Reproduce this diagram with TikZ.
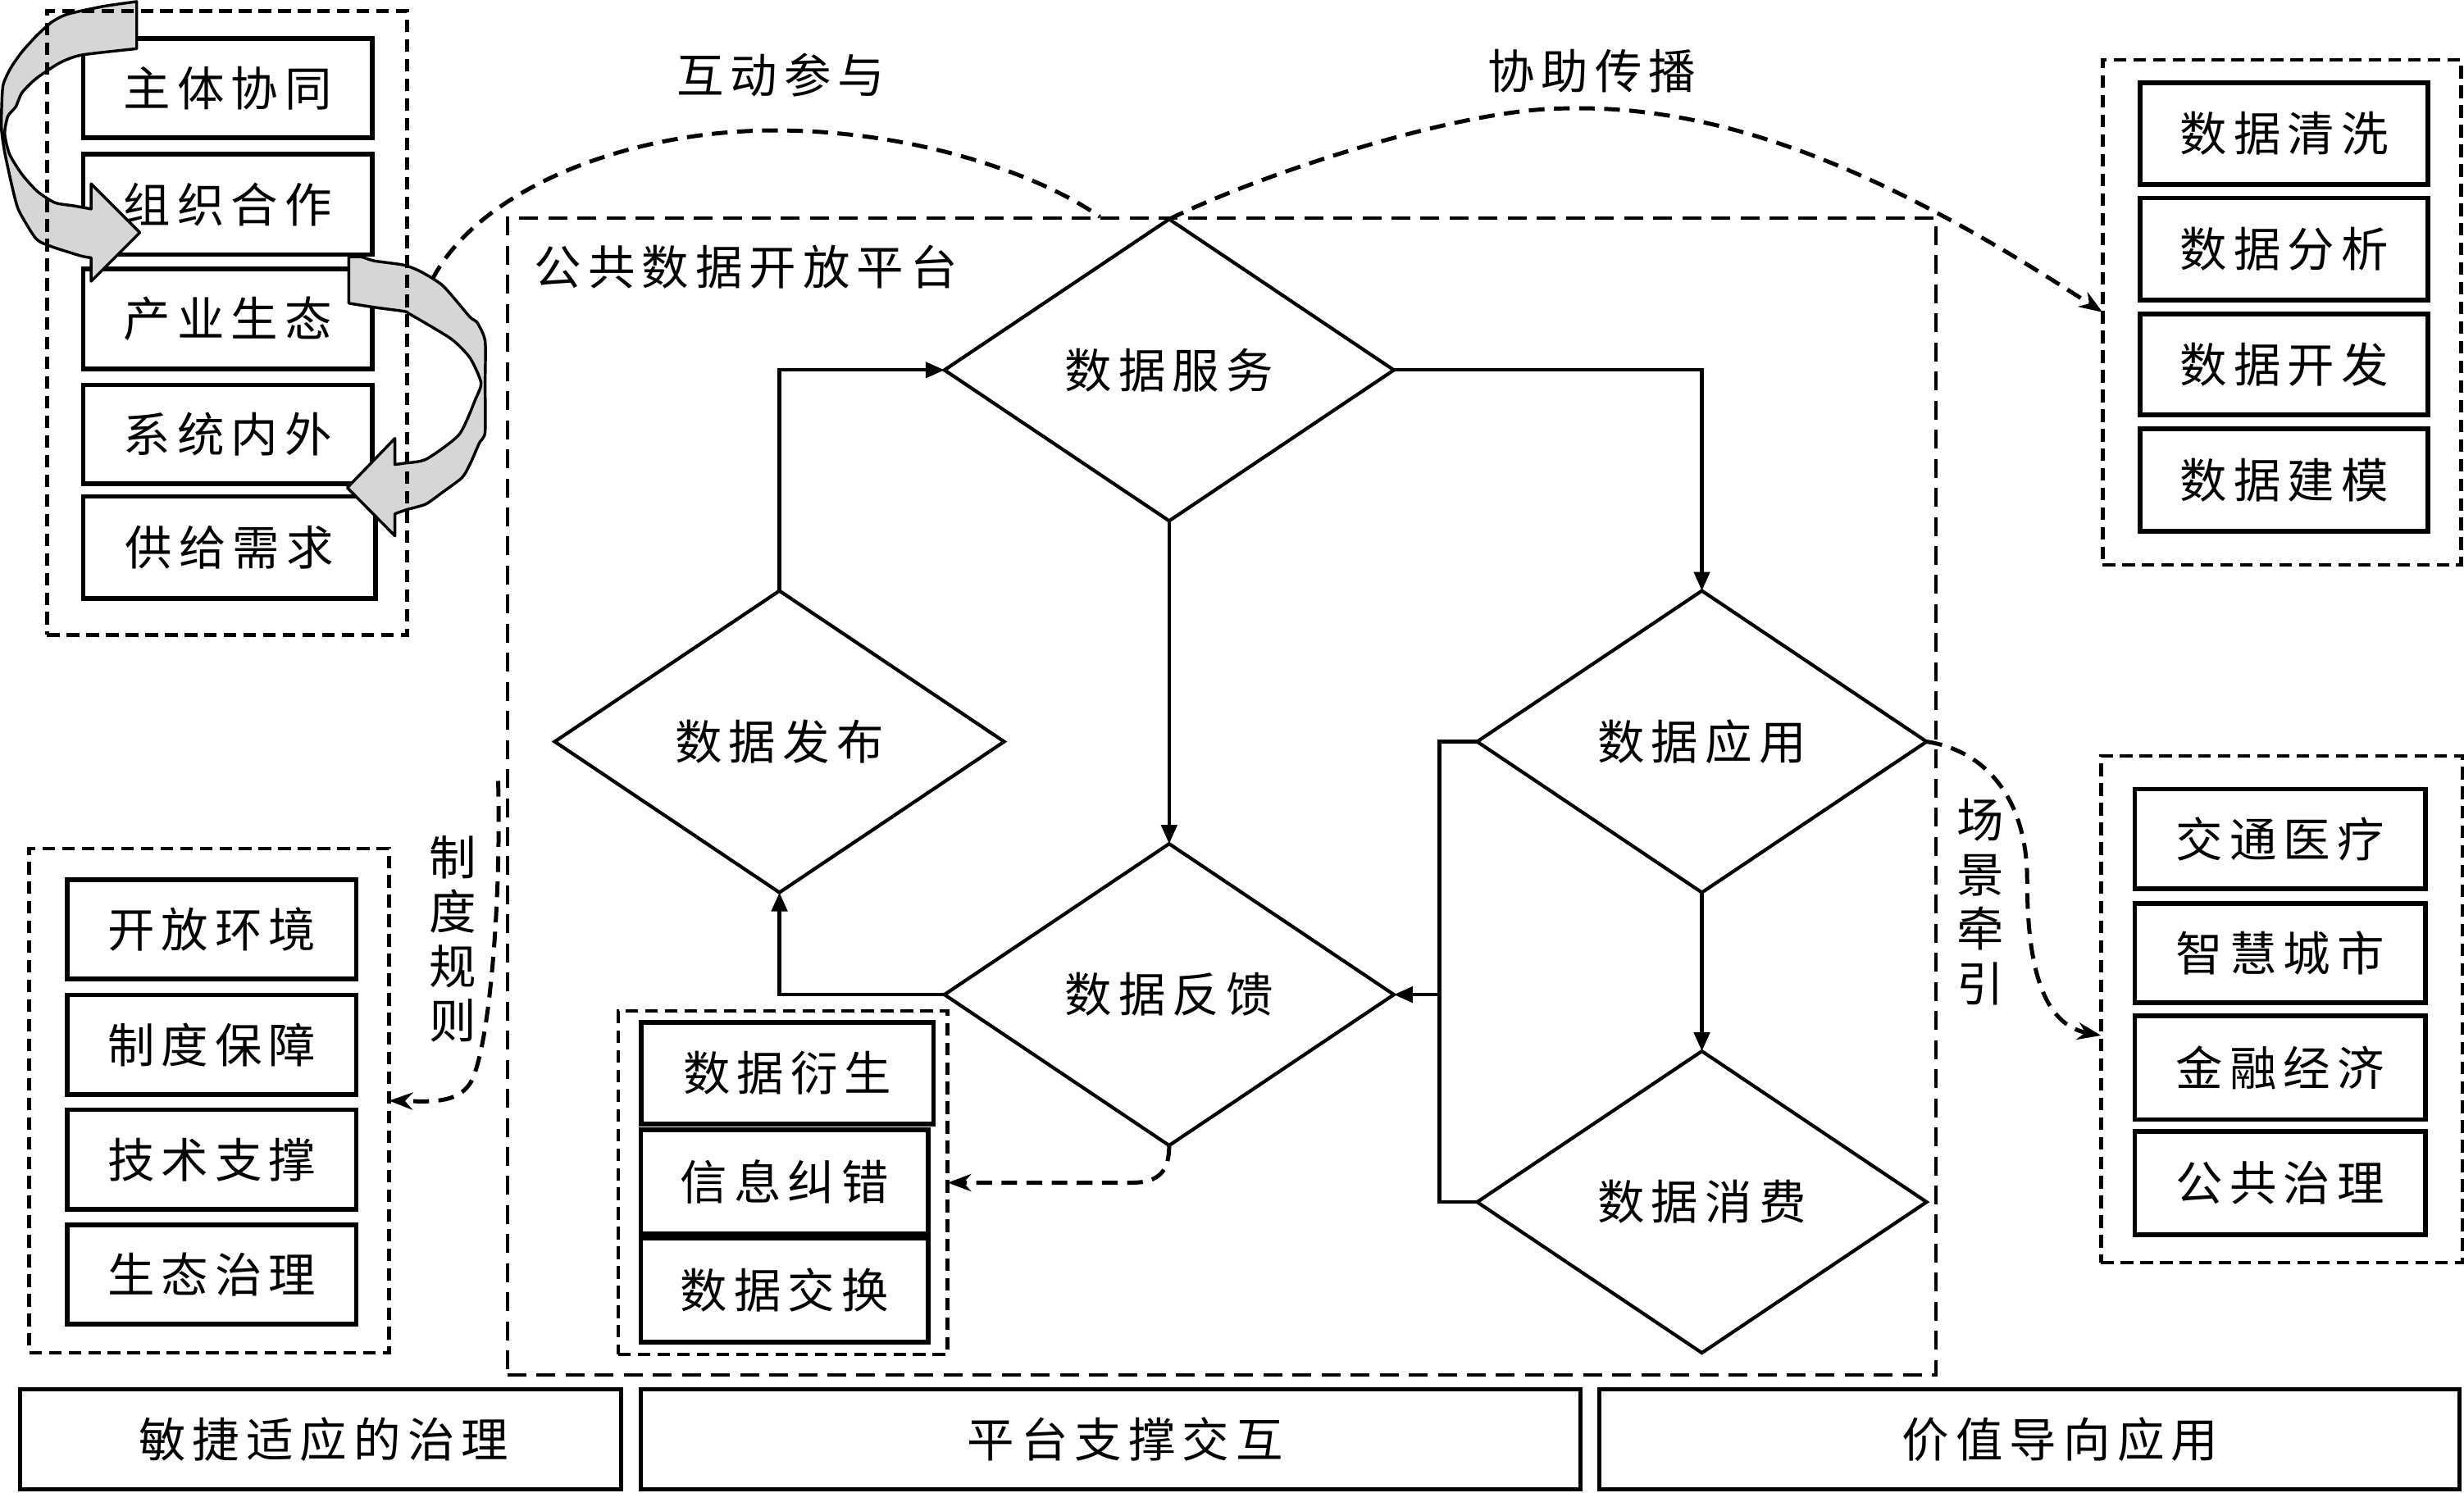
\documentclass[tikz,border=0pt]{standalone}
\usepackage{fontspec}
\usetikzlibrary{shapes.geometric,arrows.meta,calc}
\newfontfamily\cjk[LetterSpace=14]{Noto Sans CJK SC}
\newfontfamily\cjkv{Noto Sans CJK SC}
\begin{document}
\begin{tikzpicture}[x=1pt,y=-1pt,
  every node/.style={inner sep=0pt,outer sep=0pt},
  lbl/.style={font=\cjk\fontsize{30}{36}\selectfont},
  vlbl/.style={font=\cjkv\fontsize{30}{34.7}\selectfont,align=center},
  ibox/.style={draw,line width=3pt,rectangle,lbl,minimum width=184pt,minimum height=64pt},
  gbox/.style={draw,line width=2.4pt,dash pattern=on 8pt off 4.5pt,rectangle},
  platbox/.style={draw,line width=2.2pt,dash pattern=on 12pt off 6.5pt,rectangle},
  dia/.style={draw,line width=2.2pt,diamond,minimum width=286pt,minimum height=192pt,lbl},
  bar/.style={draw,line width=2.6pt,rectangle,minimum height=64pt},
  conn/.style={line width=2.2pt,-{Triangle[length=12pt,width=10pt]}},
  dcurve/.style={line width=2.6pt,dash pattern=on 10pt off 6pt,-{Stealth[length=15pt,width=11pt]}},
  dplain/.style={line width=2.6pt,dash pattern=on 10pt off 6pt},
  garrow/.style={draw,line width=1.8pt,fill=black!16,line join=round},
]
\fill[white] (0,0) rectangle (1568,950);
\useasboundingbox (0,0) rectangle (1568,950);

% platform
\node[platbox,minimum width=909pt,minimum height=736pt] (plat) at (777.5,507) {};
\node[lbl,anchor=west] (ptl) at (340,170) {公共数据开放平台};

% top-left inner boxes
\node[ibox,minimum height=63pt] (a1) at (145,56) {主体协同};
\node[ibox] (a2) at (145,130) {组织合作};
\node[ibox] (a3) at (145,203) {产业生态};
\node[ibox,minimum height=63pt] (a4) at (145,276.5) {系统内外};
\node[ibox,minimum width=186pt,minimum height=65pt] (a5) at (146,348.5) {供给需求};

% top-right inner boxes
\node[ibox,minimum width=183pt,minimum height=64.5pt] (r1) at (1453.5,85) {数据清洗};
\node[ibox,minimum width=183pt,minimum height=65pt] (r2) at (1453.5,158.5) {数据分析};
\node[ibox,minimum width=183pt] (r3) at (1453.5,232) {数据开发};
\node[ibox,minimum width=183pt,minimum height=65pt] (r4) at (1453.5,305.5) {数据建模};

% bottom-right inner boxes
\node[ibox,minimum width=185pt,minimum height=63.5pt] (s1) at (1451,534) {交通医疗};
\node[ibox,minimum width=185pt,minimum height=63pt] (s2) at (1451,606.5) {智慧城市};
\node[ibox,minimum width=185pt,minimum height=66pt] (s3) at (1451,679.5) {金融经济};
\node[ibox,minimum width=185pt,minimum height=66pt] (s4) at (1451,753) {公共治理};

% bottom-left inner boxes
\node[ibox,minimum height=63pt] (l1) at (134.7,591.5) {开放环境};
\node[ibox,minimum height=63.5pt] (l2) at (134.7,665) {制度保障};
\node[ibox,minimum height=63.5pt] (l3) at (134.7,738) {技术支撑};
\node[ibox,minimum height=63pt] (l4) at (134.7,811) {生态治理};

% middle inner boxes
\node[ibox,minimum width=186pt,minimum height=65pt] (m1) at (501,683) {数据衍生};
\node[ibox,minimum width=183pt,minimum height=66pt] (m2) at (499.3,752) {信息纠错};
\node[ibox,minimum width=183pt,minimum height=66pt] (m3) at (499.3,821) {数据交换};

% group dashed boxes (except top-left)
\node[gbox,minimum width=228pt,minimum height=321.5pt] (gTR) at (1452,198.75) {};
\node[gbox,minimum width=230pt,minimum height=322.5pt] (gBR) at (1452,642.25) {};
\node[gbox,minimum width=229pt,minimum height=321pt] (gBL) at (133.1,700.5) {};
\node[gbox,minimum width=209.5pt,minimum height=218.6pt] (gmid) at (498.25,752.7) {};

% diamonds
\node[dia] (fw) at (744,235.5) {数据服务};
\node[dia] (fb) at (496,472) {数据发布};
\node[dia] (fk) at (744,633) {数据反馈};
\node[dia] (yy) at (1083,472) {数据应用};
\node[dia] (xf) at (1083,765) {数据消费};

% solid connectors
\draw[conn] (fb.north) |- (fw.west);
\draw[conn] (fw.east) -| (yy.north);
\draw[conn] (fw.south) -- (fk.north);
\draw[conn] (yy.south) -- (xf.north);
\draw[conn] (fk.west) -| (fb.south);
\coordinate (br) at (916,633);
\draw[line width=2.2pt] (yy.west) -| (br) |- (xf.west);
\draw[conn] (br) -- (fk.east);

% bottom bars
\node[bar,minimum width=382pt] (bb1) at (204,916) {};
\node[bar,minimum width=598pt] (bb2) at (707,916) {};
\node[bar,minimum width=547pt] (bb3) at (1291.5,916) {};
\node[lbl] (bt1) at (206,916) {敏捷适应的治理};
\node[lbl] (bt2) at (716,916) {平台支撑交互};
\node[lbl] (bt3) at (1311,916) {价值导向应用};

% labels
\node[lbl] (hd) at (497,48) {互动参与};
\node[lbl] (xz) at (1013,45) {协助传播};
\node[vlbl] (zd) at (288,597.5) {制\\度\\规\\则};
\node[vlbl] (cj) at (1260.5,574) {场\\景\\牵\\引};

% dashed curved connectors
\coordinate (hdS) at (275,178);
\coordinate (hdE) at (700,138);
\draw[dplain] (hdS) .. controls (305,120) and (400,83) .. (493,83)
  .. controls (580,83) and (660,110) .. (hdE);
\draw[dcurve] (fw.north) .. controls (804,110) and (930,69) .. (996,69)
  .. controls (1110,66) and (1220,122) .. (gTR.west);
\coordinate (cjE) at (1337,659);
\draw[dcurve] (yy.east) .. controls (1265,478) and (1290,510) .. (1290,560)
  .. controls (1290,615) and (1300,652) .. (cjE);
\coordinate (zdS) at (317,497);
\draw[dcurve] (zdS) .. controls (319,570) and (312,664) .. (300,688)
  .. controls (292,703) and (272,701) .. (gBL.east);
\coordinate (fkc) at (720,752.7);
\draw[dcurve] (fk.south) .. controls (744,745) and (738,752.7) .. (fkc) -- (gmid.east);

% gray curved arrows
\filldraw[garrow] plot[smooth,tension=0.4] coordinates {(87,1) (66,4) (43,9) (33,14) (23,23) (14,33) (7,43) (2,54) (1,70) (1,83) (3,97) (8,120) (12,134) (23,152) (33,157) (52,163) (58,164)}
  -- (58,179) -- (89,148) -- (58,117) -- (58,133)
  -- plot[smooth,tension=0.4] coordinates {(58,133) (47,131) (35,129) (24,122) (14,111) (6,98) (3,85) (5,74) (10,68) (14,59) (23,50) (38,40) (52,35) (87,31)} -- cycle;
\filldraw[garrow] plot[smooth,tension=0.4] coordinates {(222,163.5) (230,163.5) (238,166) (257,168.7) (268,173) (282,182) (299,201.7) (303.5,205) (308.7,217) (308.7,244) (308.7,275) (305,282) (299,295.6) (294,304) (282,313) (271,320.8) (259,324.3) (251.3,327)}
  -- (251.3,341) -- (221,310.4) -- (251.3,279) -- (251.3,295.6)
  -- plot[smooth,tension=0.4] coordinates {(251.3,295.6) (257.4,294.8) (271.3,292.2) (292.2,276.5) (302.6,254) (306.1,243.5) (299.1,227.8) (287,215.6) (261,200) (257.4,198.2) (238.3,195.6) (222,193)} -- cycle;

% top-left group dashed box (over the arrows)
\node[gbox,minimum width=229pt,minimum height=397pt] (gTL) at (144.5,205.5) {};
\end{tikzpicture}
\end{document}
